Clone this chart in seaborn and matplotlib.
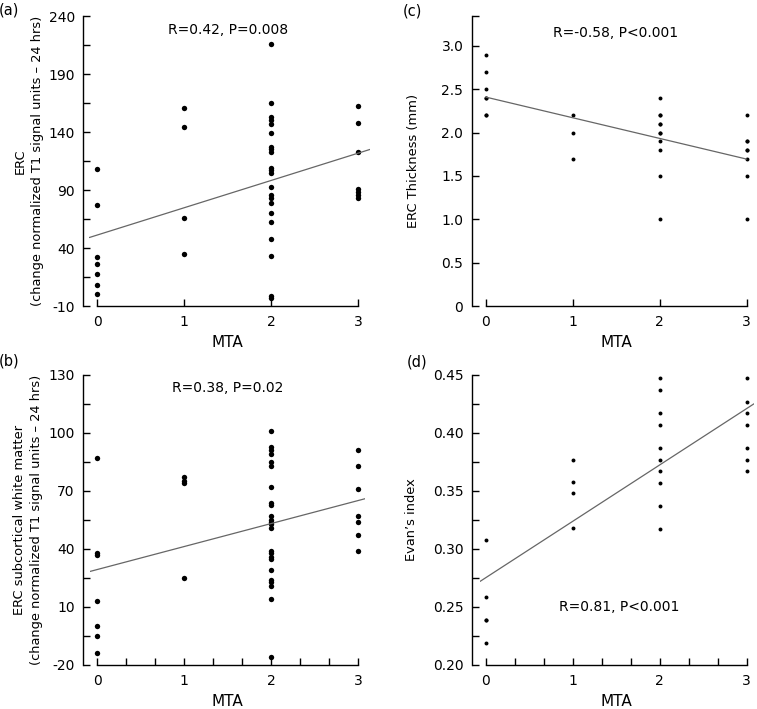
"""Four-panel MTA scatter figure (ERC signal, white matter, thickness, Evan's index)."""

import matplotlib
matplotlib.use("Agg")
import matplotlib.pyplot as plt
import seaborn as sns
from matplotlib.ticker import FixedLocator

sns.set_theme(style="ticks", rc={"axes.linewidth": 1.0, "axes.edgecolor": "black"})
plt.rcParams['font.family'] = ['DejaVu Sans']

# ---- values ----
# (a) ERC change in normalized T1 signal
mta_a = [0, 0, 0, 0, 0, 0, 0,
         1, 1, 1, 1,
         2, 2, 2, 2, 2, 2, 2, 2, 2, 2, 2, 2, 2, 2, 2, 2, 2, 2, 2, 2, 2, 2,
         3, 3, 3, 3, 3, 3, 3]
erc_a = [108, 77, 32, 26, 18, 8, 0,
         161, 144, 66, 35,
         216, 165, 153, 150, 147, 139, 127, 125, 123, 109, 107, 105, 93, 86,
         83, 79, 70, 62, 48, 33, -1, -3,
         162, 148, 123, 91, 88, 86, 83]

# (b) ERC subcortical white matter
mta_b = [0, 0, 0, 0, 0, 0, 0,
         1, 1, 1, 1,
         2, 2, 2, 2, 2, 2, 2, 2, 2, 2, 2, 2, 2, 2, 2, 2, 2, 2, 2, 2, 2, 2, 2, 2,
         3, 3, 3, 3, 3, 3, 3]
wm_b = [87, 38, 37, 13, 0, -5, -14,
        77, 75, 74, 25,
        101, 93, 91, 89, 85, 83, 72, 64, 63, 57, 55, 54, 53, 51, 39, 38, 36,
        35, 29, 24, 23, 21, 14, -16,
        91, 83, 71, 57, 54, 47, 39]

# (c) ERC thickness (mm)
mta_c = [0, 0, 0, 0, 0, 0, 0,
         1, 1, 1,
         2, 2, 2, 2, 2, 2, 2, 2, 2, 2, 2,
         3, 3, 3, 3, 3, 3, 3, 3]
thick_c = [2.9, 2.7, 2.5, 2.4, 2.4, 2.2, 2.2,
           2.2, 2.0, 1.7,
           2.4, 2.2, 2.2, 2.1, 2.1, 2.0, 2.0, 1.9, 1.8, 1.5, 1.0,
           2.2, 1.9, 1.9, 1.8, 1.8, 1.7, 1.5, 1.0]

# (d) Evan's index
mta_d = [0, 0, 0, 0, 0,
         1, 1, 1, 1,
         2, 2, 2, 2, 2, 2, 2, 2, 2, 2,
         3, 3, 3, 3, 3, 3, 3]
evans_d = [0.308, 0.259, 0.239, 0.239, 0.219,
           0.377, 0.358, 0.348, 0.318,
           0.447, 0.437, 0.417, 0.407, 0.387, 0.377, 0.367, 0.357, 0.337, 0.317,
           0.447, 0.427, 0.417, 0.407, 0.387, 0.377, 0.367]

stats_text = ["R=0.42, P=0.008", "R=0.38, P=0.02", "R=-0.58, P<0.001", "R=0.81, P<0.001"]
ylabel_a = "ERC\n(change normalized T1 signal units \u2013 24 hrs)"
ylabel_b = "ERC subcortical white matter\n(change normalized T1 signal units \u2013 24 hrs)"
ylabel_c = "ERC Thickness (mm)"
ylabel_d = "Evan\u2019s index"

yticks_a = [-10, 40, 90, 140, 190, 240]
yminor_a = [15, 65, 115, 165, 215]
yticks_b = [-20, 10, 40, 70, 100, 130]
yminor_b = [-5, 25, 55, 85, 115]
yticks_c = [0, 0.5, 1.0, 1.5, 2.0, 2.5, 3.0]
ytlabels_c = ["0", "0.5", "1.0", "1.5", "2.0", "2.5", "3.0"]
yticks_d = [0.20, 0.25, 0.30, 0.35, 0.40, 0.45]
ytlabels_d = ["0.20", "0.25", "0.30", "0.35", "0.40", "0.45"]
yminor_d = [0.225, 0.275, 0.325, 0.375, 0.425]
xminor_thirds = [1 / 3, 2 / 3, 4 / 3, 5 / 3, 7 / 3, 8 / 3]

# ---- layout (pixels of a 757x709 image) ----
W, H = 757, 709
PPU = 87.0  # pixels per MTA unit


def make_axes(fig, x0_px, xlim, top_px, bottom_px):
    left = x0_px + xlim[0] * PPU
    width = (xlim[1] - xlim[0]) * PPU
    rect = [left / W, 1 - bottom_px / H, width / W, (bottom_px - top_px) / H]
    ax = fig.add_axes(rect)
    ax.set_xlim(xlim)
    return ax, left


def style_axes(ax, fig, left_px, spine_px, ylim, yticks, ylabels, yminor, xminor,
               ylabel, ylabel_right_px, top_px, bottom_px, x0_px):
    sns.despine(ax=ax)
    ax.spines['left'].set_position(('outward', (left_px - spine_px) * 0.72))
    ax.spines['bottom'].set_bounds(0, 3)
    ax.set_ylim(ylim)
    ax.set_xticks([0, 1, 2, 3])
    ax.set_xticklabels(["0", "1", "2", "3"])
    ax.set_yticks(yticks)
    ax.set_yticklabels(ylabels)
    if yminor:
        ax.yaxis.set_minor_locator(FixedLocator(yminor))
    if xminor:
        ax.xaxis.set_minor_locator(FixedLocator(xminor))
    ax.tick_params(axis='both', which='both', direction='in', length=5, width=1,
                   color='black', labelcolor='black', labelsize=10)
    ax.tick_params(axis='y', which='both', pad=6)
    ax.tick_params(axis='x', which='both', pad=6.5)
    ax.set_xlabel("MTA", fontsize=11, color='black')
    ax.set_ylabel(ylabel, fontsize=9.4, color='black', linespacing=1.4)
    ax.xaxis.set_label_coords((x0_px + 1.5 * PPU) / W, 1 - (bottom_px + 29) / H,
                              transform=fig.transFigure)
    ax.yaxis.set_label_coords(ylabel_right_px / W, 1 - (top_px + bottom_px) / 2 / H,
                              transform=fig.transFigure)


def draw_panel(ax, x, y, size, truncate):
    sns.regplot(x=x, y=y, ax=ax, ci=None, truncate=truncate, color='black',
                scatter_kws=dict(s=size, linewidths=0, alpha=1),
                line_kws=dict(color='#666666', lw=0.9))


fig = plt.figure(figsize=(W / 100, H / 100), dpi=100)

# (a)
ax_a, left_a = make_axes(fig, 97.3, (-0.092, 3.134), 16, 306)
draw_panel(ax_a, mta_a, erc_a, 15, False)
style_axes(ax_a, fig, left_a, 83.3, (-10, 240), yticks_a, [str(v) for v in yticks_a],
           yminor_a, None, ylabel_a, 44, 16, 306, 97.3)

# (b)
ax_b, left_b = make_axes(fig, 97.3, (-0.084, 3.077), 375, 665)
draw_panel(ax_b, mta_b, wm_b, 15, False)
style_axes(ax_b, fig, left_b, 83.0, (-20, 130), yticks_b, [str(v) for v in yticks_b],
           yminor_b, xminor_thirds, ylabel_b, 43, 375, 665, 97.3)

# (c)
ax_c, left_c = make_axes(fig, 485.7, (-0.161, 3.038), 16, 306)
draw_panel(ax_c, mta_c, thick_c, 8, True)
style_axes(ax_c, fig, left_c, left_c, (0, 3.345), yticks_c, ytlabels_c,
           [3.345], None, ylabel_c, 420, 16, 306, 485.7)

# (d)
ax_d, left_d = make_axes(fig, 485.7, (-0.066, 3.085), 375, 665)
draw_panel(ax_d, mta_d, evans_d, 8, False)
style_axes(ax_d, fig, left_d, 471.7, (0.20, 0.45), yticks_d, ytlabels_d,
           yminor_d, xminor_thirds, ylabel_d, 418, 375, 665, 485.7)

# correlation annotations and panel letters
for txt, (px, py) in zip(stats_text, [(228, 30), (228, 388), (616, 33), (619, 607)]):
    fig.text(px / W, 1 - py / H, txt, ha='center', va='center', fontsize=10, color='black')

for letter, (px, py) in zip(["(a)", "(b)", "(c)", "(d)"],
                            [(9, 10), (9, 361), (412, 11), (417, 362)]):
    fig.text(px / W, 1 - py / H, letter, ha='center', va='center', fontsize=10.5, color='black')

fig.savefig("out.png", dpi=100)
